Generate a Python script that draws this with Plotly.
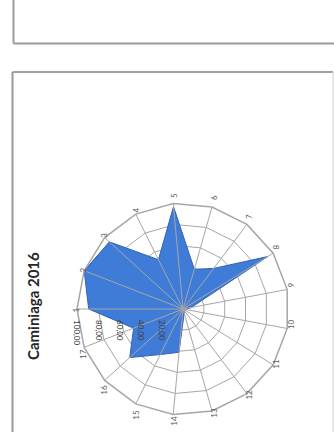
import plotly.graph_objects as go

# ── Data ──────────────────────────────────────────────────────────────────────
CATEGORIES = [str(i) for i in range(1, 18)]
VALUES = [89, 100, 94, 52, 97, 39, 48, 94, 8, 3, 2, 2, 4, 41, 48, 68, 50]
RADIAL_TICKS = [20, 40, 60, 80, 100]
TITLE = "Caminiaga 2016"

W, H = 334, 432
CX, CY, R = 183, 309, 106          # centre and outer radius of the radar, px

GRID = "#a6a6a6"
FONT = "Lato"

theta = CATEGORIES + CATEGORIES[:1]
r = VALUES + VALUES[:1]

fig = go.Figure()
fig.add_trace(go.Scatterpolar(
    r=r, theta=theta, mode="lines", fill="toself",
    fillcolor="#3f7cd8", line=dict(color="#2f64b4", width=1),
    subplot="polar", showlegend=False, hoverinfo="skip",
))
# empty trace so the overlay subplot (spokes + radial labels on top) is drawn
fig.add_trace(go.Scatterpolar(
    r=[0], theta=["1"], mode="markers", marker=dict(size=0, opacity=0),
    subplot="polar2", showlegend=False, hoverinfo="skip",
))

dom = dict(x=[(CX - R) / W, (CX + R) / W], y=[1 - (CY + R) / H, 1 - (CY - R) / H])
ang_common = dict(type="category", categoryarray=CATEGORIES,
                  rotation=180, direction="clockwise", ticks="")

fig.update_layout(
    width=W, height=H,
    margin=dict(l=0, r=0, t=0, b=0),
    paper_bgcolor="white",
    separators=",.",
    # rings below the filled area
    polar=dict(
        domain=dom, bgcolor="rgba(0,0,0,0)", gridshape="linear",
        angularaxis=dict(**ang_common, showline=False, showgrid=False,
                         showticklabels=False),
        radialaxis=dict(
            range=[0, 100], tickvals=RADIAL_TICKS, showticklabels=False,
            showline=False, ticks="", showgrid=True,
            gridcolor=GRID, gridwidth=1.2,
        ),
    ),
    # spokes, outer polygon and all labels above it
    polar2=dict(
        domain=dom, bgcolor="rgba(0,0,0,0)", gridshape="linear",
        angularaxis=dict(
            **ang_common,
            showline=True, linecolor=GRID, linewidth=1.5,
            showgrid=True, gridcolor=GRID, gridwidth=1.2,
            tickangle=-90,
            tickfont=dict(family=FONT, size=8, color="#595959"),
        ),
        radialaxis=dict(
            range=[0, 100], tickvals=RADIAL_TICKS, tickformat=".2f",
            angle=180, side="counterclockwise", tickangle=-90,
            ticks="outside", ticklen=9, tickcolor="rgba(0,0,0,0)",
            showline=False, showgrid=False,
            tickfont=dict(family=FONT, size=8, color="#404040"),
        ),
    ),
    shapes=[
        # partial box of the chart above
        dict(type="line", xref="paper", yref="paper",
             x0=13.5 / W, x1=1.0, y0=1 - 43.5 / H, y1=1 - 43.5 / H,
             line=dict(color="#9a9a9a", width=2)),
        dict(type="line", xref="paper", yref="paper",
             x0=13.5 / W, x1=13.5 / W, y0=1 - 43.5 / H, y1=1.0,
             line=dict(color="#9a9a9a", width=2)),
        # chart frame
        dict(type="line", xref="paper", yref="paper",
             x0=12.5 / W, x1=333 / W, y0=1 - 72 / H, y1=1 - 72 / H,
             line=dict(color="#a0a0a0", width=2)),
        dict(type="line", xref="paper", yref="paper",
             x0=12.5 / W, x1=12.5 / W, y0=0, y1=1 - 72 / H,
             line=dict(color="#9a9a9a", width=2)),
        dict(type="line", xref="paper", yref="paper",
             x0=333 / W, x1=333 / W, y0=0, y1=1 - 72 / H,
             line=dict(color="#cfcfcf", width=1)),
    ],
    annotations=[
        dict(text=f"<b>{TITLE}</b>", xref="paper", yref="paper",
             x=33 / W, y=1 - 306 / H, xanchor="center", yanchor="middle",
             showarrow=False, textangle=-90,
             font=dict(family=FONT, size=15, color="#262626")),
    ],
)

fig.write_html("out.html", config={"displayModeBar": False},
               post_script="document.body.style.margin='0';")
